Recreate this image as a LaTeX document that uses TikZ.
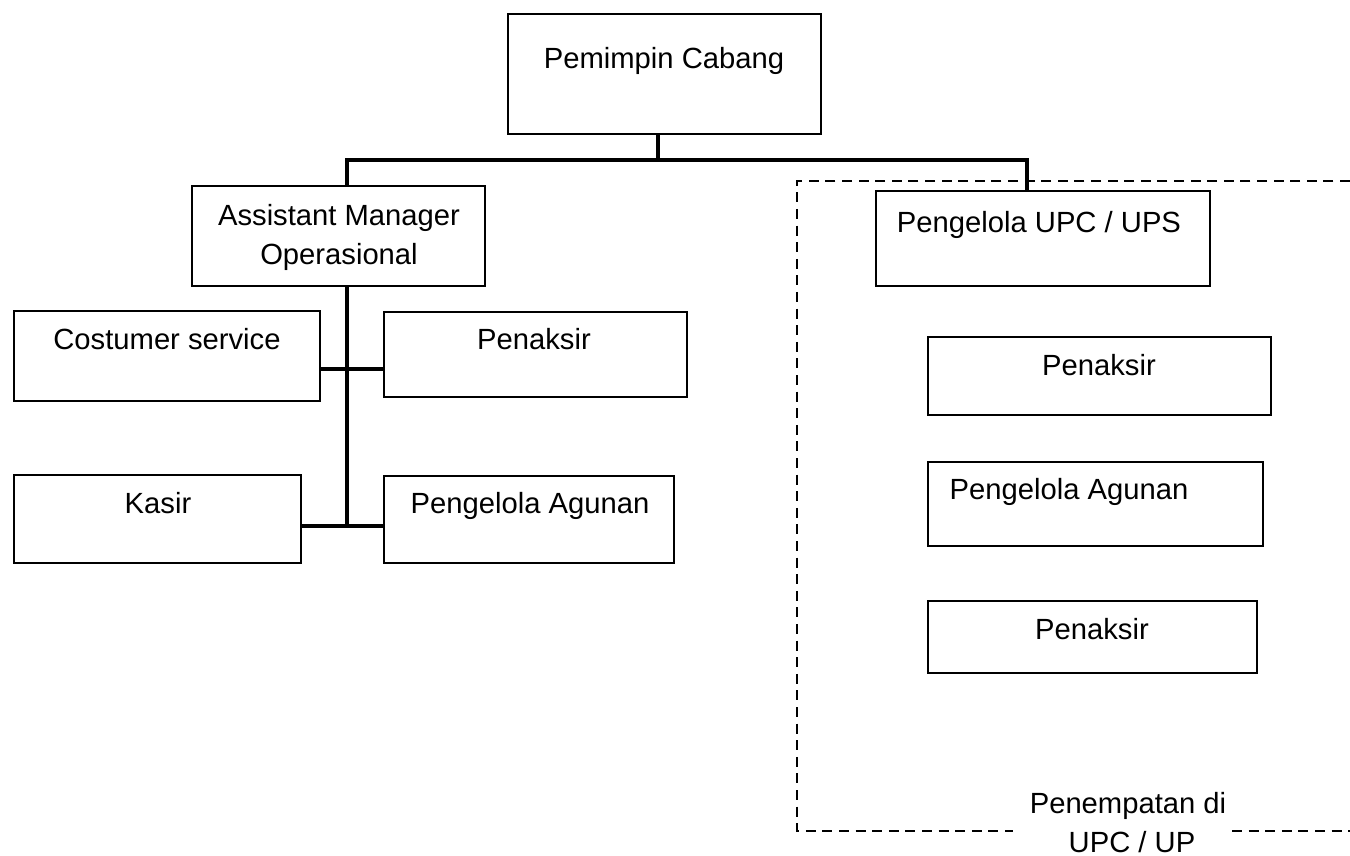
\documentclass[tikz,border=0pt]{standalone}
\usepackage{fontspec}
\setmainfont{Liberation Sans}
\usetikzlibrary{fit}
\begin{document}
\begin{tikzpicture}[x=0.5pt,y=-0.5pt,
  box/.style={draw=black, line width=1.3pt, inner sep=0pt, rectangle},
  lbl/.style={anchor=base, inner sep=0pt, font=\fontsize{14.6}{19}\selectfont},
  conn/.style={draw=black, line width=1.6pt},
  zone/.style={draw=black, line width=1.3pt, dash pattern=on 5pt off 3.3pt}]
\useasboundingbox (0,0) rectangle (1350,856);

% boxes
\node[box, fit={(508,14) (821,134)}] (pc) {};
\node[box, fit={(192,186) (485,286)}] (amo) {};
\node[box, fit={(14,311) (320,401)}] (cs) {};
\node[box, fit={(384,312) (687,397)}] (pen1) {};
\node[box, fit={(14,475) (301,563)}] (kasir) {};
\node[box, fit={(384,476) (674,563)}] (pa1) {};
\node[box, fit={(876,191) (1210,286)}] (upc) {};
\node[box, fit={(928,337) (1271,415)}] (pen2) {};
\node[box, fit={(928,462) (1263,546)}] (pa2) {};
\node[box, fit={(928,601) (1257,673)}] (pen3) {};

% labels
\node[lbl] (tpc) at (664,69) {Pemimpin Cabang};
\node[lbl] (tamo1) at (339,226) {Assistant Manager};
\node[lbl] (tamo2) at (339,264) {Operasional};
\node[lbl] (tcs) at (167,349) {Costumer service};
\node[lbl] (tpen1) at (534,349) {Penaksir};
\node[lbl] (tkasir) at (158,513) {Kasir};
\node[lbl] (tpa1) at (530,513) {Pengelola Agunan};
\node[lbl] (tupc) at (1039,232) {Pengelola UPC / UPS};
\node[lbl] (tpen2) at (1099,375) {Penaksir};
\node[lbl] (tpa2) at (1069,499) {Pengelola Agunan};
\node[lbl] (tpen3) at (1092,639) {Penaksir};
\node[lbl] (tzone1) at (1128,813) {Penempatan di};
\node[lbl] (tzone2) at (1132,852) {UPC / UP};

% connector junctions
\coordinate (busM) at (658,160);
\coordinate (busL) at (347,160);
\coordinate (busR) at (1027,160);
\coordinate (row1) at (347,369);
\coordinate (row2) at (347,526);

% connectors
\draw[conn] (pc.south -| busM) -- (busM);
\draw[conn] (amo.north -| busL) -- (busL) -- (busR) -- (upc.north -| busR);
\draw[conn] (amo.south -| busL) -- (row2);
\draw[conn] (cs.east |- row1) -- (pen1.west |- row1);
\draw[conn] (kasir.east |- row2) -- (pa1.west |- row2);

% placement zone
\coordinate (zTR) at (1350,181);
\coordinate (zTL) at (797,181);
\coordinate (zBL) at (797,831);
\coordinate (zBM1) at (1013,831);
\coordinate (zBM2) at (1232,831);
\coordinate (zBR) at (1350,831);
\draw[zone] (zTR) -- (zTL) -- (zBL) -- (zBM1);
\draw[zone] (zBM2) -- (zBR);
\end{tikzpicture}
\end{document}
